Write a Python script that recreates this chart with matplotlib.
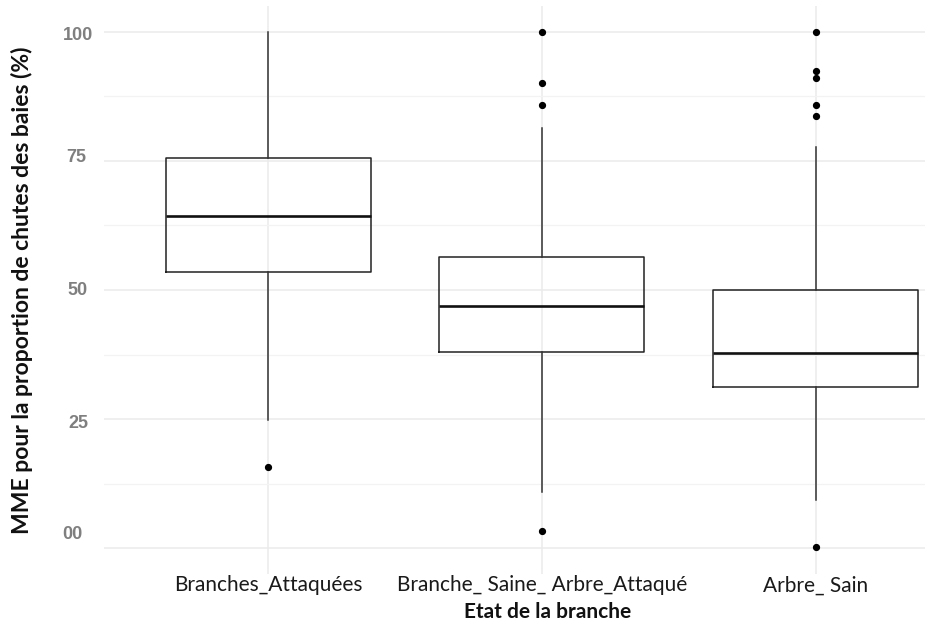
import matplotlib
matplotlib.use("Agg")
import matplotlib.pyplot as plt
import matplotlib.transforms as mtransforms

# Group labels and box statistics (% fruit drop)
categories = ["Branches_Attaquées", "Branche_ Saine_ Arbre_Attaqué", "Arbre_ Sain"]
whisker_low = [24.8, 10.9, 9.3]
q1 = [53.5, 38.0, 31.2]
median = [64.3, 46.9, 37.8]
q3 = [75.6, 56.4, 50.0]
whisker_high = [100.0, 81.4, 77.7]
outliers = [
    [15.7],
    [100.0, 90.1, 85.9, 3.3],
    [100.0, 92.4, 91.1, 85.9, 83.7, 0.2],
]
ytick_values = [0, 25, 50, 75, 100]
ytick_labels = ["00", "25", "50", "75", "100"]

stats = []
for i, name in enumerate(categories):
    stats.append(dict(label=name, whislo=whisker_low[i], q1=q1[i], med=median[i],
                      q3=q3[i], whishi=whisker_high[i], fliers=outliers[i]))

fig = plt.figure(figsize=(9.25, 6.23), dpi=100)
ax = fig.add_axes([0.1124, 0.0787, 0.8876, 0.9117])

positions = [1, 2, 3]
ax.bxp(stats, positions=positions, widths=0.75, patch_artist=False,
       boxprops=dict(color="#222222", linewidth=1.1),
       whiskerprops=dict(color="#333333", linewidth=1.1),
       capprops=dict(linewidth=0),
       medianprops=dict(color="#111111", linewidth=1.9),
       flierprops=dict(marker="o", markerfacecolor="black", markeredgecolor="black",
                       markersize=4.2, linestyle="none"),
       zorder=3)

ax.set_xlim(0.40, 3.40)
ax.set_ylim(-5, 105)

# Light grid in the minimal style
ax.set_yticks(ytick_values)
ax.set_yticks([12.5, 37.5, 62.5, 87.5], minor=True)
ax.grid(True, which="major", axis="both", color="#ebebeb", linewidth=1.1, zorder=0)
ax.grid(True, which="minor", axis="y", color="#f3f3f3", linewidth=0.9, zorder=0)
ax.set_axisbelow(True)
for s in ax.spines.values():
    s.set_visible(False)
ax.tick_params(axis="both", which="both", length=0)

ax.set_xticks(positions)
ax.set_xticklabels(categories, fontsize=15, family="Lato", color="#1a1a1a")
ax.tick_params(axis="x", pad=1)

ax.set_yticklabels(ytick_labels, fontsize=13, family="Liberation Sans",
                   fontweight="bold", color="#7f7f7f")
ax.tick_params(axis="y", pad=11)
# small per-label offsets (pixels: dx, dy)
offsets = [(-6, 16), (0, -2), (-1, 1), (-2, 5), (4, -2)]
for lab, (dx, dy) in zip(ax.get_yticklabels(), offsets):
    lab.set_transform(lab.get_transform() +
                      mtransforms.ScaledTranslation(dx / 100, dy / 100, fig.dpi_scale_trans))

ax.set_xlabel("Etat de la branche", fontsize=15, family="Lato", fontweight="bold",
              color="#111111")
ax.xaxis.set_label_coords(0.54, -0.050)
ax.set_ylabel("MME pour la proportion de chutes des baies (%)", fontsize=16.5,
              family="Lato", fontweight="bold", color="#111111", labelpad=21)

fig.savefig("out.png", dpi=100)
